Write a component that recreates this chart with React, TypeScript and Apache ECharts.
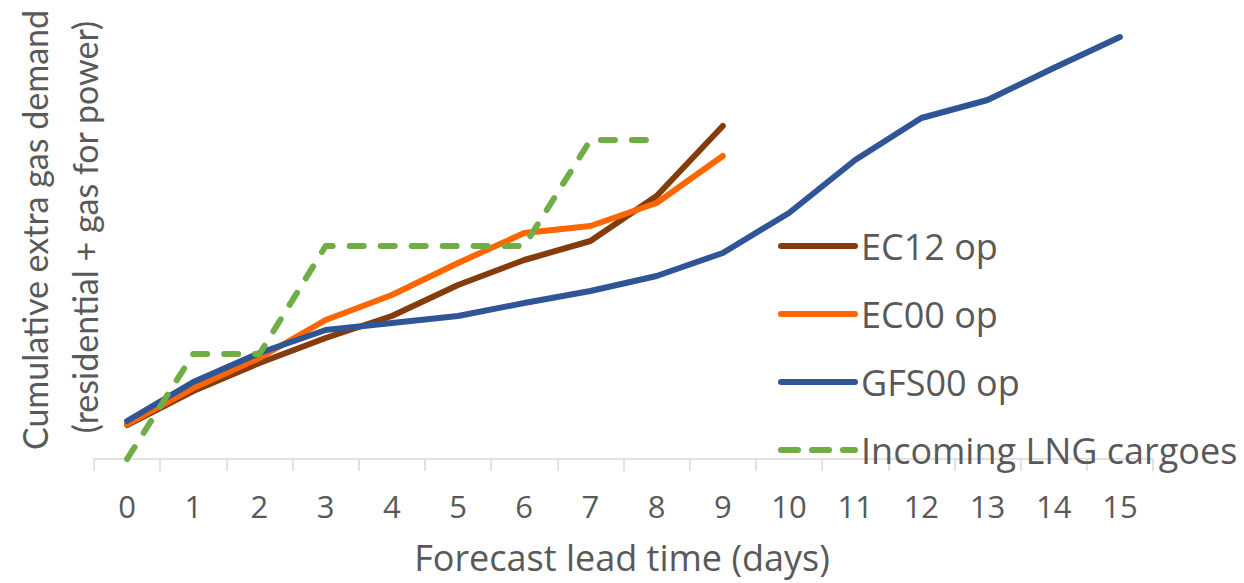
import React, { useEffect, useRef } from "react";
import * as echarts from "echarts";

const leadDays = ["0", "1", "2", "3", "4", "5", "6", "7", "8", "9", "10", "11", "12", "13", "14", "15"];
const ec12 = [34, 68, 96, 121, 143, 174, 199, 218, 263, 333];
const ec00 = [35, 71, 101, 139, 164, 196, 226, 233, 256, 303];
const gfs00 = [38, 77, 106, 129, 136, 143, 156, 168, 183, 206, 246, 299, 341, 359, 391, 422];
const lng = [0, 105, 105, 213, 213, 213, 213, 319, 319];

const FONT = "'Open Sans'";
const YFONT = "Lato";
const GREY = "#595959";

export default function App() {
  const ref = useRef<HTMLDivElement>(null);
  useEffect(() => {
    if (!ref.current) return;
    const chart = echarts.init(ref.current, undefined, { renderer: "svg" });
    const lineCommon = {
      type: "line",
      symbol: "none",
      showSymbol: false,
      smooth: false,
    };
    chart.setOption({
      animation: false,
      backgroundColor: "#ffffff",
      textStyle: { fontFamily: FONT },
      grid: { left: 94, right: 91, top: 19, bottom: 124, containLabel: false },
      xAxis: {
        type: "category",
        data: leadDays,
        boundaryGap: true,
        axisLine: { show: true, lineStyle: { color: "#d9d9d9", width: 1.5 } },
        axisTick: { show: true, length: 12, lineStyle: { color: "#d9d9d9", width: 1.5 } },
        axisLabel: { color: GREY, fontSize: 31, fontFamily: FONT, margin: 31 },
        splitLine: { show: false },
      },
      yAxis: {
        type: "value",
        min: 0,
        max: 440,
        show: false,
        splitLine: { show: false },
      },
      legend: {
        orient: "vertical",
        left: 778,
        top: 227,
        padding: 0,
        itemWidth: 74,
        itemHeight: 14,
        itemGap: 30,
        itemStyle: { opacity: 0 },
        textStyle: { color: GREY, fontSize: 36, fontFamily: FONT, lineHeight: 38, padding: [0, 0, 0, 1] },
        data: [
          { name: "EC12 op", lineStyle: { width: 6 } },
          { name: "EC00 op", lineStyle: { width: 6 } },
          { name: "GFS00 op", lineStyle: { width: 6 } },
          { name: "Incoming LNG cargoes", lineStyle: { width: 6, type: [17, 14] } },
        ],
      },
      graphic: [
        {
          type: "text",
          x: 622,
          y: 557,
          style: {
            text: "Forecast lead time (days)",
            fill: GREY,
            font: `36px ${FONT}`,
            align: "center",
            verticalAlign: "middle",
          },
        },
        {
          type: "text",
          x: 34,
          y: 230,
          rotation: Math.PI / 2,
          style: {
            text: "Cumulative extra gas demand",
            fill: GREY,
            font: `34px ${YFONT}`,
            align: "center",
            verticalAlign: "middle",
          },
        },
        {
          type: "text",
          x: 84,
          y: 227,
          rotation: Math.PI / 2,
          style: {
            text: "(residential + gas for power)",
            fill: GREY,
            font: `34px ${YFONT}`,
            align: "center",
            verticalAlign: "middle",
          },
        },
      ],
      series: [
        {
          ...lineCommon,
          name: "EC12 op",
          data: ec12,
          itemStyle: { color: "#843C0C" },
          lineStyle: { color: "#843C0C", width: 6, cap: "round", join: "round" },
        },
        {
          ...lineCommon,
          name: "EC00 op",
          data: ec00,
          itemStyle: { color: "#FF6600" },
          lineStyle: { color: "#FF6600", width: 6, cap: "round", join: "round" },
        },
        {
          ...lineCommon,
          name: "GFS00 op",
          data: gfs00,
          itemStyle: { color: "#2F5597" },
          lineStyle: { color: "#2F5597", width: 6, cap: "round", join: "round" },
        },
        {
          ...lineCommon,
          name: "Incoming LNG cargoes",
          data: lng,
          itemStyle: { color: "#70AD47" },
          lineStyle: { color: "#70AD47", width: 6, type: [14, 17], cap: "round", join: "round" },
        },
      ],
    });
    return () => chart.dispose();
  }, []);
  return (
    <div
      ref={ref}
      style={{ position: "absolute", left: 0, top: 0, width: 1244, height: 583 }}
    />
  );
}
